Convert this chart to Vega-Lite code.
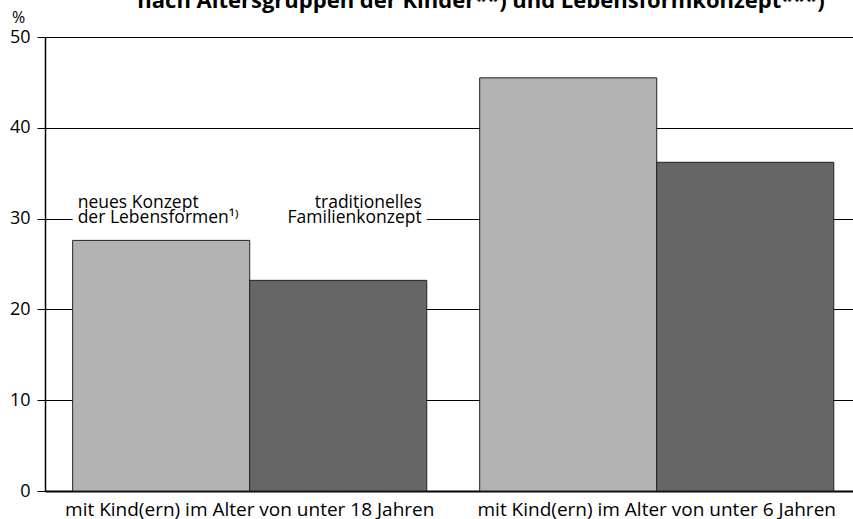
{
  "$schema": "https://vega.github.io/schema/vega-lite/v6.json",
  "width": 808,
  "height": 454,
  "autosize": "none",
  "padding": {"left": 45, "top": 37, "right": 0, "bottom": 28},
  "background": "white",
  "config": {"font": "Open Sans", "view": {"stroke": null}},
  "title": {
    "text": "nach Altersgruppen der Kinder**) und Lebensformkonzept***)",
    "fontSize": 22,
    "fontWeight": "bold",
    "anchor": "middle",
    "frame": "group",
    "offset": -21,
    "baseline": "alphabetic",
    "dx": 32,
    "color": "black"
  },
  "datasets": {
    "main": [
      {"group": "mit Kind(ern) im Alter von unter 18 Jahren", "series": "neues Konzept der Lebensformen", "value": 27.6},
      {"group": "mit Kind(ern) im Alter von unter 18 Jahren", "series": "traditionelles Familienkonzept", "value": 23.2},
      {"group": "mit Kind(ern) im Alter von unter 6 Jahren", "series": "neues Konzept der Lebensformen", "value": 45.5},
      {"group": "mit Kind(ern) im Alter von unter 6 Jahren", "series": "traditionelles Familienkonzept", "value": 36.2}
    ],
    "labels": [
      {"group": "mit Kind(ern) im Alter von unter 18 Jahren", "series": "neues Konzept der Lebensformen", "label": "neues Konzept\nder Lebensformen¹⁾"},
      {"group": "mit Kind(ern) im Alter von unter 18 Jahren", "series": "traditionelles Familienkonzept", "label": "traditionelles\nFamilienkonzept"}
    ]
  },
  "encoding": {
    "x": {
      "field": "group",
      "type": "nominal",
      "sort": null,
      "scale": {"paddingInner": 0.13, "paddingOuter": 0.0576, "align": 0.59},
      "axis": {
        "title": null,
        "labelAngle": 0,
        "ticks": false,
        "domainColor": "black",
        "domainWidth": 2,
        "labelFontSize": 19,
        "labelPadding": 9,
        "labelLimit": 0,
        "labelColor": "black"
      }
    }
  },
  "layer": [
    {
      "data": {"name": "main"},
      "mark": {"type": "bar", "stroke": "#222222", "strokeWidth": 1},
      "encoding": {
        "xOffset": {"field": "series", "type": "nominal", "sort": null, "scale": {"paddingInner": 0, "paddingOuter": 0}},
        "y": {
          "field": "value",
          "type": "quantitative",
          "scale": {"domain": [0, 50], "nice": false},
          "axis": {
            "title": "%",
            "titleAngle": 0,
            "titleX": -27,
            "titleY": -15,
            "titleAlign": "center",
            "titleBaseline": "alphabetic",
            "titleFontSize": 16,
            "titleFontWeight": "normal",
            "titleColor": "black",
            "values": [0, 10, 20, 30, 40, 50],
            "grid": true,
            "gridColor": "black",
            "gridWidth": 1,
            "domainColor": "black",
            "domainWidth": 1.5,
            "tickColor": "black",
            "tickSize": 8,
            "labelFontSize": 18,
            "labelPadding": 7,
            "labelColor": "black"
          }
        },
        "fill": {
          "field": "series",
          "type": "nominal",
          "scale": {"range": ["#b3b3b3", "#666666"]},
          "legend": null
        }
      }
    },
    {
      "data": {"name": "labels"},
      "transform": [{"filter": "datum.series == 'neues Konzept der Lebensformen'"}],
      "mark": {"type": "bar", "fill": "white", "stroke": null},
      "encoding": {
        "y": {"datum": 29.2},
        "y2": {"datum": 30.8}
      }
    },
    {
      "data": {"name": "labels"},
      "transform": [{"filter": "datum.series == 'neues Konzept der Lebensformen'"}],
      "mark": {"type": "text", "align": "left", "baseline": "alphabetic", "dx": 5, "fontSize": 17.5, "lineHeight": 15, "lineBreak": "\n", "color": "black"},
      "encoding": {
        "x": {"field": "group", "type": "nominal", "bandPosition": 0},
        "y": {"datum": 31.2},
        "text": {"field": "label"}
      }
    },
    {
      "data": {"name": "labels"},
      "transform": [{"filter": "datum.series == 'traditionelles Familienkonzept'"}],
      "mark": {"type": "text", "align": "right", "baseline": "alphabetic", "dx": -5, "fontSize": 17.5, "lineHeight": 15, "lineBreak": "\n", "color": "black"},
      "encoding": {
        "x": {"field": "group", "type": "nominal", "bandPosition": 1},
        "y": {"datum": 31.2},
        "text": {"field": "label"}
      }
    }
  ]
}
